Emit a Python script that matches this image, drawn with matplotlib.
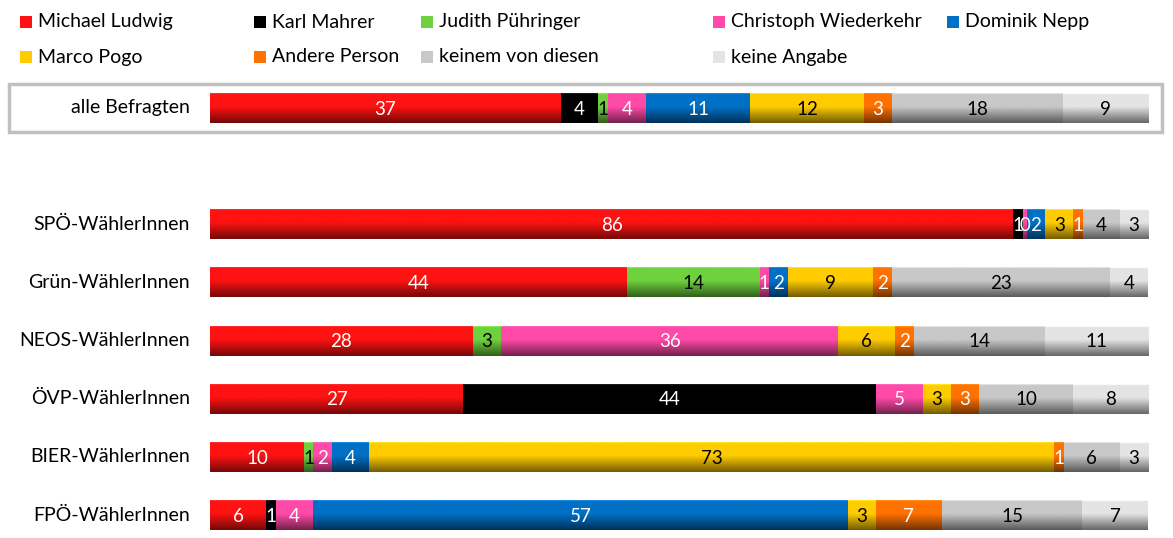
import numpy as np
import matplotlib
matplotlib.use("Agg")
import matplotlib.pyplot as plt
from matplotlib.patches import Rectangle
from matplotlib.colors import to_rgb

plt.rcParams['font.family'] = ['Lato', 'DejaVu Sans']

series = ["Michael Ludwig", "Karl Mahrer", "Judith Pühringer", "Christoph Wiederkehr",
          "Dominik Nepp", "Marco Pogo", "Andere Person", "keinem von diesen", "keine Angabe"]
colors = ["#ff1212", "#000000", "#6fd13e", "#ff4aa8", "#0070c6", "#ffcc00", "#ff7200",
          "#c8c8c8", "#e4e4e4"]
text_colors = ["white", "white", "black", "white", "white", "black", "white", "black", "black"]

groups = ["alle Befragten", "SPÖ-WählerInnen", "Grün-WählerInnen", "NEOS-WählerInnen",
          "ÖVP-WählerInnen", "BIER-WählerInnen", "FPÖ-WählerInnen"]
alle = [37, 4, 1, 4, 11, 12, 3, 18, 9]
spoe = [86, 1, 0, 0.4, 2, 3, 1, 4, 3]
gruen = [44, 0, 14, 1, 2, 9, 2, 23, 4]
neos = [28, 0, 3, 36, 0, 6, 2, 14, 11]
oevp = [27, 44, 0, 5, 0, 3, 3, 10, 8]
bier = [10, 0, 1, 2, 4, 73, 1, 6, 3]
fpoe = [6, 1, 0, 4, 57, 3, 7, 15, 7]
rows = [alle, spoe, gruen, neos, oevp, bier, fpoe]
slots = [0, 2, 3, 4, 5, 6, 7]

W, H = 1173, 538
fig = plt.figure(figsize=(W / 100, H / 100), dpi=100)

x0, x1 = 210, 1148
ytop, ybot = 80, 538
unit = (515 - 108) / 7
ax = fig.add_axes([x0 / W, (H - ybot) / H, (x1 - x0) / W, (ybot - ytop) / H])
ax.axis('off')

bar_h = 30 / unit
n = 64
t = np.linspace(0, 1, n)
fac = np.where(t < 0.45, 1.0, 1.0 - (t - 0.45) / 0.55 * 0.55)

def grad(c):
    rgb = np.array(to_rgb(c))
    img = rgb[None, :] * fac[:, None]
    img[:2] = np.clip(rgb + 0.12, 0, 1)
    return img[:, None, :]

for vals, s in zip(rows, slots):
    total = sum(vals)
    left = 0.0
    for i, v in enumerate(vals):
        w = v / total * 100
        if w <= 0:
            continue
        ax.imshow(grad(colors[i]), extent=(left, left + w, s + bar_h / 2, s - bar_h / 2),
                  aspect='auto', interpolation='bilinear', zorder=2)
        ax.text(left + w / 2, s + 0.02, f"{round(v):d}", ha='center', va='center',
                color=text_colors[i], fontsize=13.5, zorder=3)
        left += w

ax.set_xlim(0, 100)
ax.set_ylim(7 + (ybot - 515) / unit, -(108 - ytop) / unit)

for g, s in zip(groups, slots):
    ypix = 108 + s * unit
    fig.text(190 / W, 1 - ypix / H, g, ha='right', va='center', fontsize=14, color='black')

fig.patches.append(Rectangle((9 / W, 1 - 132 / H), (1162 - 9) / W, (132 - 84) / H,
                             transform=fig.transFigure, fill=False, edgecolor='#c0c0c0',
                             linewidth=2.5))

leg_x = [20, 254, 421, 713, 947]
leg_y = [22, 57]
for i, name in enumerate(series):
    r, cidx = divmod(i, 5)
    lx, ly = leg_x[cidx], leg_y[r]
    fig.patches.append(Rectangle((lx / W, 1 - (ly + 6) / H), 12 / W, 12 / H,
                                 transform=fig.transFigure, facecolor=colors[i],
                                 edgecolor='none'))
    fig.text((lx + 18) / W, 1 - ly / H, name, ha='left', va='center', fontsize=14, color='black')

fig.savefig("out.png", dpi=100)
